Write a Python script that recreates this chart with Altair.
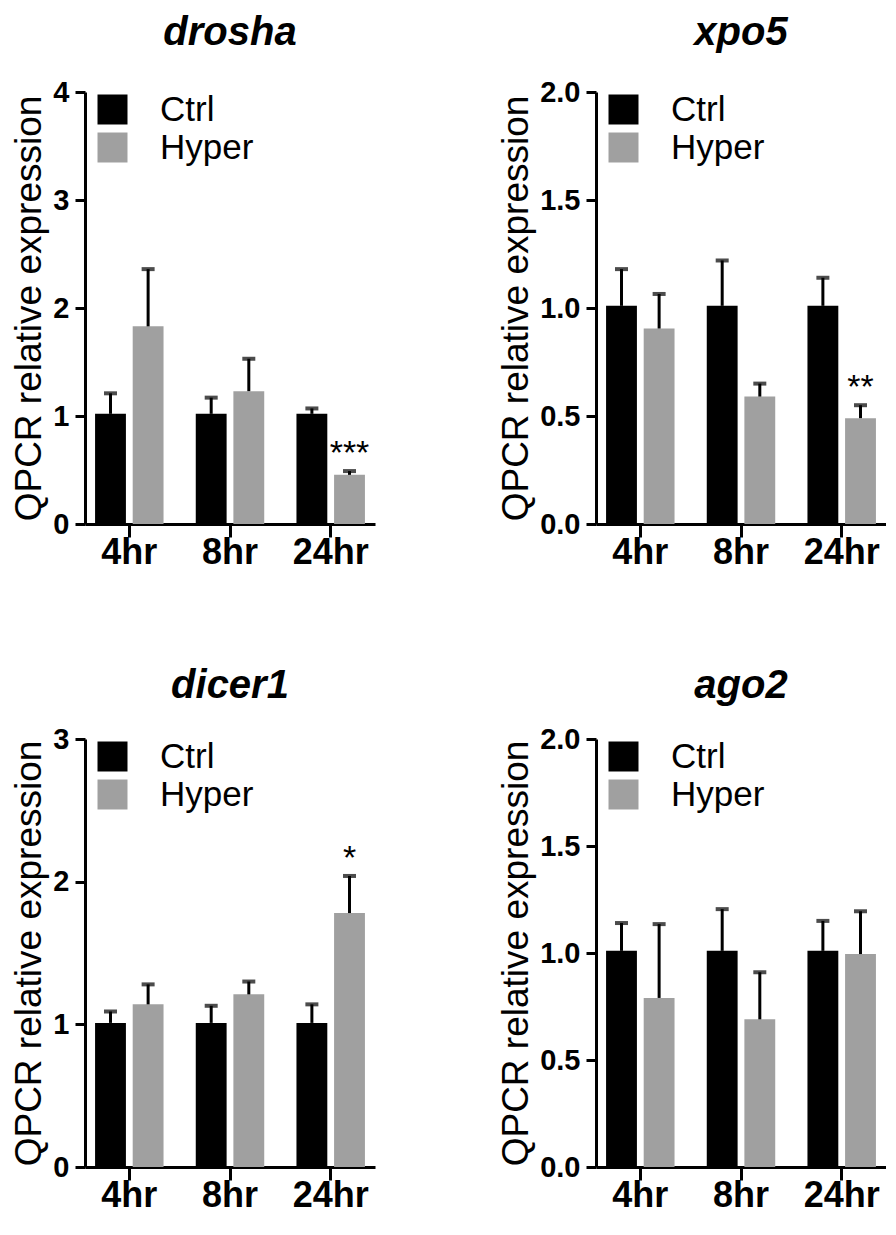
import altair as alt
import pandas as pd

times = ["4hr", "8hr", "24hr"]
groups = ["Ctrl", "Hyper"]
colors = ["#000000", "#a0a0a0"]

drosha_ctrl = [1.02, 1.02, 1.02]
drosha_ctrl_err = [0.19, 0.15, 0.05]
drosha_hyper = [1.83, 1.23, 0.455]
drosha_hyper_err = [0.53, 0.30, 0.035]
drosha_stars = ["", "", "***"]

xpo5_ctrl = [1.01, 1.01, 1.01]
xpo5_ctrl_err = [0.17, 0.21, 0.13]
xpo5_hyper = [0.905, 0.59, 0.49]
xpo5_hyper_err = [0.16, 0.06, 0.06]
xpo5_stars = ["", "", "**"]

dicer1_ctrl = [1.01, 1.01, 1.01]
dicer1_ctrl_err = [0.08, 0.12, 0.13]
dicer1_hyper = [1.14, 1.21, 1.78]
dicer1_hyper_err = [0.14, 0.09, 0.26]
dicer1_stars = ["", "", "*"]

ago2_ctrl = [1.01, 1.01, 1.01]
ago2_ctrl_err = [0.13, 0.195, 0.14]
ago2_hyper = [0.79, 0.69, 0.995]
ago2_hyper_err = [0.345, 0.22, 0.20]
ago2_stars = ["", "", ""]

FONT = "Liberation Sans"
W = 290


def panel(gene, ctrl, ctrl_err, hyper, hyper_err, stars, ymax, ticks, fmt,
          height, title_offset):
    rows = []
    for i, t in enumerate(times):
        rows.append(dict(time=t, group="Ctrl", value=ctrl[i],
                         upper=ctrl[i] + ctrl_err[i], star=""))
        rows.append(dict(time=t, group="Hyper", value=hyper[i],
                         upper=hyper[i] + hyper_err[i], star=stars[i]))
    df = pd.DataFrame(rows)

    x = alt.X("time:N", sort=times,
              scale=alt.Scale(paddingInner=0.32, paddingOuter=0.1),
              axis=alt.Axis(title=None, labelAngle=0, labelFont=FONT,
                            labelFontSize=36, labelFontWeight="bold",
                            labelColor="black", labelPadding=-2,
                            domainColor="black", domainWidth=3,
                            tickColor="black", tickWidth=3, tickSize=13))
    xo = alt.XOffset("group:N", sort=groups,
                     scale=alt.Scale(paddingInner=0.18, paddingOuter=0))
    y = alt.Y("value:Q",
              scale=alt.Scale(domain=[0, ymax], nice=False, zero=True),
              axis=alt.Axis(values=ticks, format=fmt,
                            title="QPCR relative expression",
                            titleFont=FONT, titleFontSize=37,
                            titleFontWeight="normal", titleColor="black",
                            titlePadding=4,
                            labelFont=FONT, labelFontSize=29,
                            labelFontWeight="bold", labelColor="black",
                            labelPadding=6, grid=False,
                            domainColor="black", domainWidth=3,
                            tickColor="black", tickWidth=3, tickSize=10))

    base = alt.Chart(df)
    bars = base.mark_bar().encode(
        x=x, xOffset=xo, y=y,
        color=alt.Color("group:N", sort=groups,
                        scale=alt.Scale(domain=groups, range=colors),
                        legend=alt.Legend(title=None, orient="none",
                                          legendX=10, legendY=0,
                                          symbolType="square",
                                          symbolSize=900,
                                          symbolStrokeWidth=0,
                                          labelFont=FONT, labelFontSize=35,
                                          labelColor="black",
                                          labelOffset=30, rowPadding=2,
                                          padding=0)))
    err = base.mark_rule(color="black", strokeWidth=3).encode(
        x=alt.X("time:N", sort=times), xOffset=alt.XOffset("group:N", sort=groups),
        y="value:Q", y2="upper:Q")
    caps = base.mark_tick(color="black", thickness=4, size=13,
                          orient="horizontal").encode(
        x=alt.X("time:N", sort=times), xOffset=alt.XOffset("group:N", sort=groups),
        y="upper:Q")
    txt = base.mark_text(font=FONT, fontSize=34, color="black",
                         baseline="alphabetic", dy=-7).encode(
        x=alt.X("time:N", sort=times), xOffset=alt.XOffset("group:N", sort=groups),
        y="upper:Q", text="star:N")

    return alt.layer(bars, err, caps, txt).properties(
        width=W, height=height,
        title=alt.TitleParams(gene, font=FONT, fontSize=40,
                              fontStyle="italic", fontWeight="bold",
                              color="black", anchor="middle",
                              offset=title_offset))


p1 = panel("drosha", drosha_ctrl, drosha_ctrl_err, drosha_hyper,
           drosha_hyper_err, drosha_stars, 4, [0, 1, 2, 3, 4], "d", 432, 25)
p2 = panel("xpo5", xpo5_ctrl, xpo5_ctrl_err, xpo5_hyper,
           xpo5_hyper_err, xpo5_stars, 2, [0, 0.5, 1, 1.5, 2], ".1f", 432, 25)
p3 = panel("dicer1", dicer1_ctrl, dicer1_ctrl_err, dicer1_hyper,
           dicer1_hyper_err, dicer1_stars, 3, [0, 1, 2, 3], "d", 428, 19)
p4 = panel("ago2", ago2_ctrl, ago2_ctrl_err, ago2_hyper,
           ago2_hyper_err, ago2_stars, 2, [0, 0.5, 1, 1.5, 2], ".1f", 428, 19)

row1 = alt.hconcat(p1, p2, spacing=122).resolve_scale(color="independent")
row2 = alt.hconcat(p3, p4, spacing=122).resolve_scale(color="independent")
chart = alt.vconcat(row1, row2, spacing=96).resolve_scale(
    color="independent").properties(
    padding={"left": 2, "top": 5, "right": 0, "bottom": 0}
).configure_view(stroke=None)

chart.save("out.html", embed_options={"renderer": "svg", "actions": False})
